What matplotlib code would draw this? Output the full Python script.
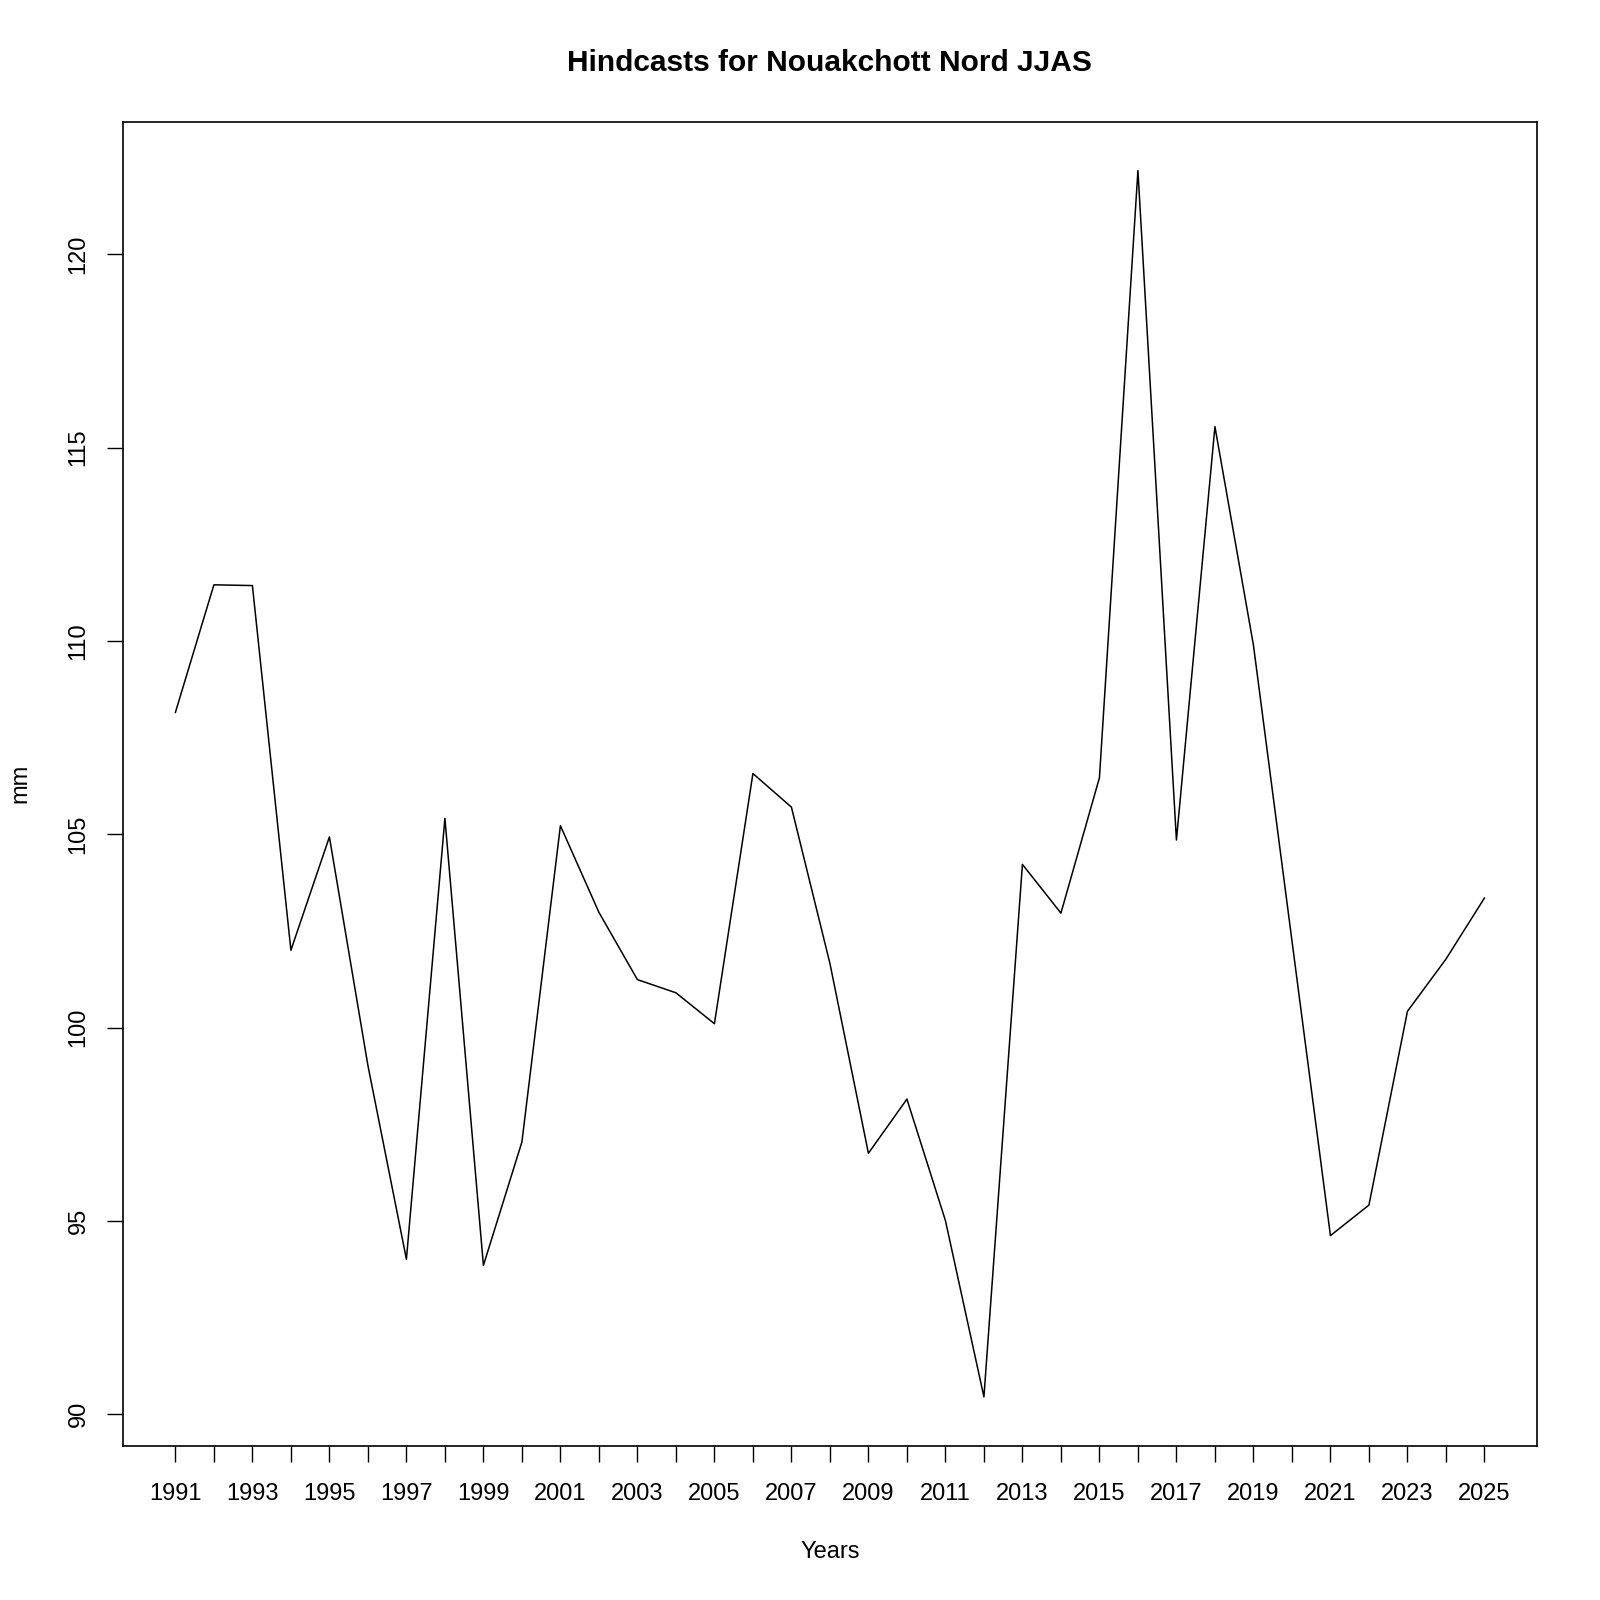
import numpy as np
import matplotlib
matplotlib.use("Agg")
import matplotlib.pyplot as plt

plt.rcParams['font.family'] = ['Liberation Sans', 'DejaVu Sans']

# hindcast series (mm)
years = list(range(1991, 2026))
hindcast = [108.15, 111.45, 111.43, 102.0, 104.93, 99.02, 94.01, 105.41, 93.85, 97.04,
            105.22, 102.98, 101.24, 100.9, 100.1, 106.57, 105.7, 101.66, 96.75, 98.15,
            95.01, 90.45, 104.22, 102.96, 106.46, 122.16, 104.85, 115.54, 109.89, 102.25,
            94.62, 95.41, 100.42, 101.77, 103.35]
ytick_vals = [90, 95, 100, 105, 110, 115, 120]

fig = plt.figure(figsize=(16, 16), dpi=100)
ax_l, ax_b, ax_w, ax_h = 0.0769, 0.0963, 0.8836, 0.8277
ax = fig.add_axes([ax_l, ax_b, ax_w, ax_h])

ax.plot(years, hindcast, color='black', linewidth=1.1)

# R-style 4% padding
pad_x = 0.04 * (years[-1] - years[0])
lo, hi = min(hindcast), max(hindcast)
pad_y = 0.04 * (hi - lo)
ax.set_xlim(years[0] - pad_x, years[-1] + pad_x)
ax.set_ylim(lo - pad_y, hi + pad_y)

ax.set_xticks(years)
ax.set_xticklabels([str(y) if (y - years[0]) % 2 == 0 else '' for y in years])
ax.set_yticks(ytick_vals)
ax.set_yticklabels([str(v) for v in ytick_vals], rotation=90, va='center')

ax.tick_params(axis='both', direction='out', length=11.5, width=1.0,
               labelsize=17, color='black')
ax.tick_params(axis='x', pad=15.5)
ax.tick_params(axis='y', pad=12.5)
for s in ax.spines.values():
    s.set_linewidth(1.2)

# titles placed in figure coords, like R's margin lines
fig.text(ax_l + ax_w / 2, 0.030, 'Years', fontsize=17, ha='center', va='center')
fig.text(0.013, ax_b + ax_h / 2, 'mm', fontsize=17, ha='center', va='center', rotation=90)
fig.text(ax_l + ax_w / 2, 0.9604, 'Hindcasts for Nouakchott Nord JJAS',
         fontsize=21.5, fontweight='bold', ha='center', va='center')

fig.savefig('out.png', dpi=100)
